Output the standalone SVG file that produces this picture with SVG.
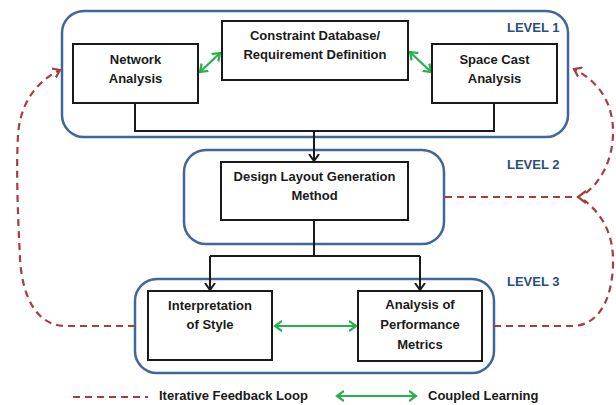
<svg xmlns="http://www.w3.org/2000/svg" width="616" height="405" viewBox="0 0 616 405">
<defs>
<style>
.lvl{fill:none;stroke:#41679A;stroke-width:2.5}
.box{fill:#fff;stroke:#1a1a1a;stroke-width:2}
.t{font-family:"Liberation Sans",Arial,sans-serif;font-weight:bold;font-size:13px;fill:#1a1a1a;text-anchor:middle}
.lt{font-family:"Liberation Sans",Arial,sans-serif;font-weight:bold;font-size:13px;fill:#2A4F7E}
.blk{fill:none;stroke:#1a1a1a;stroke-width:2}
.grn{fill:none;stroke:#27B14C;stroke-width:2.2}
.red{fill:none;stroke:#A43F40;stroke-width:2.2;stroke-dasharray:7,5}
</style>
<marker id="ab" markerUnits="userSpaceOnUse" markerWidth="12" markerHeight="12" refX="7" refY="5" orient="auto" viewBox="0 0 12 10">
<path d="M0,0 L7,5 L0,10" fill="none" stroke="#1a1a1a" stroke-width="2"/>
</marker>
<marker id="ag" markerUnits="userSpaceOnUse" markerWidth="12" markerHeight="12" refX="7" refY="5" orient="auto-start-reverse" viewBox="0 0 12 10">
<path d="M0,0 L7,5 L0,10" fill="none" stroke="#27B14C" stroke-width="2.2"/>
</marker>
<marker id="ar" markerUnits="userSpaceOnUse" markerWidth="12" markerHeight="12" refX="7" refY="5" orient="auto" viewBox="0 0 12 10">
<path d="M0,0 L7,5 L0,10" fill="none" stroke="#A43F40" stroke-width="2.2"/>
</marker>
</defs>
<rect width="616" height="405" fill="#fff"/>
<g id="level1">
<rect class="lvl" x="62" y="11" width="506" height="126" rx="22"/>
<text class="lt" x="507" y="32">LEVEL 1</text>
</g>
<g id="level2">
<rect class="lvl" x="184" y="150" width="260" height="94" rx="22"/>
<text class="lt" x="507" y="169">LEVEL 2</text>
</g>
<g id="level3">
<rect class="lvl" x="135" y="279" width="359" height="94" rx="22"/>
<text class="lt" x="507" y="286">LEVEL 3</text>
</g>
<g id="connectors">
<path class="blk" d="M135,103 V131 H494 V103"/>
<path class="blk" d="M314,131 V161" marker-end="url(#ab)"/>
<path class="blk" d="M314,220 V256 M210,256 H420"/>
<path class="blk" d="M210,256 V290" marker-end="url(#ab)"/>
<path class="blk" d="M420,256 V290" marker-end="url(#ab)"/>
<path class="grn" d="M200,72 L220,53" marker-start="url(#ag)" marker-end="url(#ag)"/>
<path class="grn" d="M410,52 L431,72" marker-start="url(#ag)" marker-end="url(#ag)"/>
<path class="grn" d="M275,326 H356" marker-start="url(#ag)" marker-end="url(#ag)"/>
<path class="red" d="M135,326 H66 C36,326 22,296 20,258 C18,220 16,170 18,135 C20,105 35,82 60,70" marker-end="url(#ar)"/>
<path class="red" d="M445,197 H578"/>
<path class="red" d="M494,326 H572 C598,326 612,300 613,265 C614,235 603,215 584,200"/>
<path class="red" d="M586,193 C602,180 612,160 613,135 C614,105 600,82 574,69" marker-end="url(#ar)"/>
<path d="M586,191 L578,197 L586,203" fill="none" stroke="#A43F40" stroke-width="2.2"/>
<path class="red" d="M73,397 H148"/>
<path class="grn" d="M337,396 H416" marker-start="url(#ag)" marker-end="url(#ag)"/>
</g>
<g id="network">
<rect class="box" x="73" y="44" width="125" height="59"/>
<text class="t" x="135.5" y="64">Network</text>
<text class="t" x="135.5" y="83">Analysis</text>
</g>
<g id="constraint">
<rect class="box" x="222" y="21" width="186" height="59"/>
<text class="t" x="315" y="40">Constraint Database/</text>
<text class="t" x="315" y="59">Requirement Definition</text>
</g>
<g id="spacecast">
<rect class="box" x="432" y="44" width="125" height="59"/>
<text class="t" x="494.5" y="64">Space Cast</text>
<text class="t" x="494.5" y="83">Analysis</text>
</g>
<g id="design">
<rect class="box" x="221" y="162" width="187" height="58"/>
<text class="t" x="314.5" y="181">Design Layout Generation</text>
<text class="t" x="314.5" y="200">Method</text>
</g>
<g id="interpretation">
<rect class="box" x="148" y="291" width="124" height="69"/>
<text class="t" x="210" y="310">Interpretation</text>
<text class="t" x="210" y="329">of Style</text>
</g>
<g id="analysis">
<rect class="box" x="358" y="291" width="124" height="70"/>
<text class="t" x="420" y="309">Analysis of</text>
<text class="t" x="420" y="329">Performance</text>
<text class="t" x="420" y="349">Metrics</text>
</g>
<g id="legend">
<text class="t" x="159" y="400" style="text-anchor:start">Iterative Feedback Loop</text>
<text class="t" x="428" y="400" style="text-anchor:start">Coupled Learning</text>
</g>
</svg>
